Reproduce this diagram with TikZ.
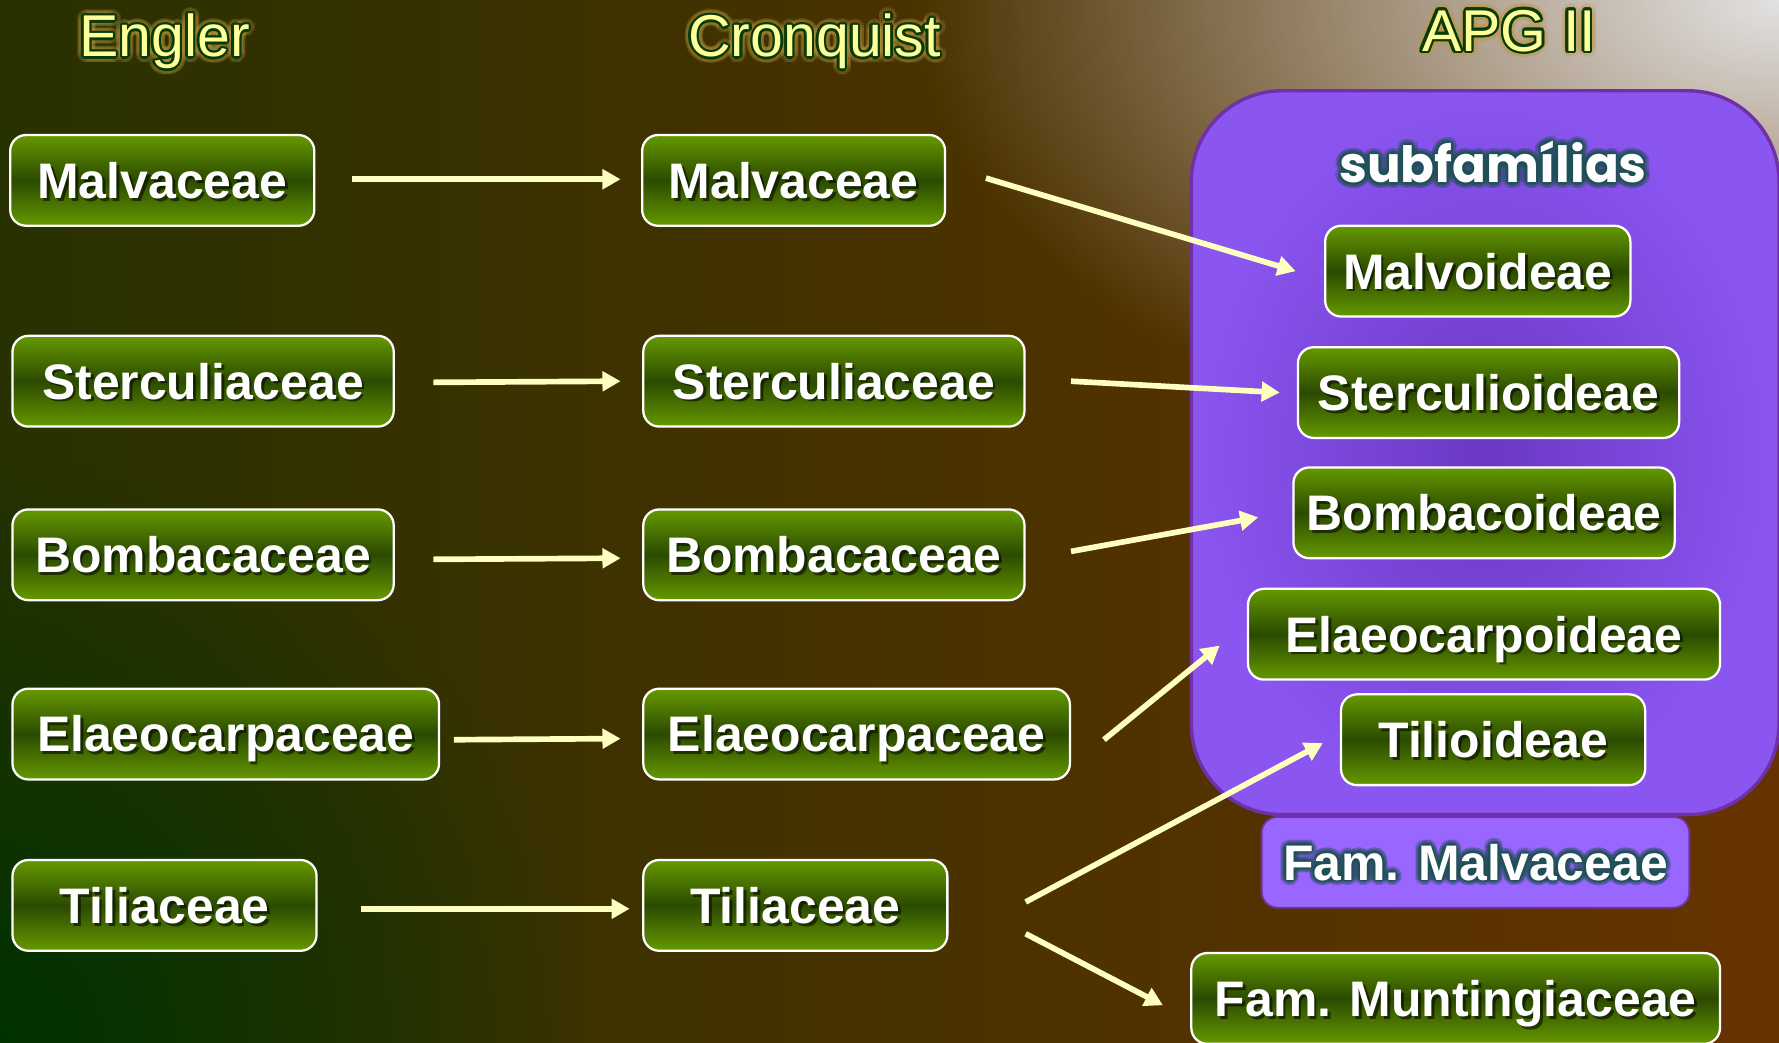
\documentclass[tikz,border=0pt]{standalone}
\usepackage{fontspec}
\setmainfont{Liberation Sans}
\newfontfamily\popfont{Poppins}
\usetikzlibrary{arrows.meta,calc,fadings}
\tikzfading[name=myglow, inner color=transparent!0, outer color=transparent!100]
\definecolor{bgL}{HTML}{283100}
\definecolor{bgM}{HTML}{533300}
\definecolor{bgR}{HTML}{663300}
\definecolor{bgG}{HTML}{003300}
\definecolor{bgW}{HTML}{E2E2E2}
\definecolor{gtop}{HTML}{669900}
\definecolor{gmid}{HTML}{2B4A00}
\definecolor{arrowc}{HTML}{FFFFC0}
\definecolor{titley}{HTML}{FFFF99}
\definecolor{titleo}{HTML}{0A3A0A}
\definecolor{titleg}{HTML}{C09A40}
\definecolor{purpin}{HTML}{6A38C4}
\definecolor{purpout}{HTML}{8B55F0}
\definecolor{purpline}{HTML}{7030A8}
\definecolor{purpfam}{HTML}{9966FF}
\definecolor{tealglow}{HTML}{1F4F55}
\newcommand\boxfont{\fontsize{22}{26}\selectfont\bfseries}
\newcommand\titlefont{\fontsize{26}{30}\selectfont}
\newcommand\subfont{\popfont\fontsize{22}{26}\selectfont\bfseries}
\tikzset{
  boxtext/.style={font=\boxfont, text height=15.8pt, text depth=0pt, inner sep=0pt},
  gbox/.style 2 args={draw=white, line width=1pt, rounded corners=7pt, minimum height=40pt,
    boxtext, text=white,
    path picture={
      \shade[top color=gtop, bottom color=gtop, middle color=gmid]
        (path picture bounding box.south west) rectangle (path picture bounding box.north east);
      \node[boxtext, text=black, opacity=0.55] (#1s) at ($(path picture bounding box.center)+(1.2pt,-1.2pt)$) {#2};
    }},
  pbox/.style 2 args={draw=purpline, line width=0.8pt, rounded corners=7pt, minimum height=40pt,
    boxtext, text=white, fill=purpfam,
    path picture={
      \foreach \a in {0,30,...,330}{
        \node[boxtext, text=tealglow, opacity=0.3] (#1g\a) at ($(path picture bounding box.center)+(\a:2.4pt)$) {#2};}
      \foreach \a in {0,45,...,315}{
        \node[boxtext, text=tealglow, opacity=0.5] (#1h\a) at ($(path picture bounding box.center)+(\a:1.1pt)$) {#2};}
    }},
  bigbox/.style={draw=purpline, line width=1.5pt, rounded corners=40pt, inner color=purpin, outer color=purpout},
  arr/.style={draw=arrowc, line width=2.5pt, -{Triangle[length=8pt,width=8.5pt]}},
  ttl/.style={font=\titlefont, anchor=base, inner sep=0pt},
  subt/.style={font=\subfont, anchor=base, inner sep=0pt},
}
\newcommand\gnode[4]{\node[gbox={#1}{#4}, minimum width=#3] (#1) at (#2) {#4};}
\newcommand\mytitle[3]{%
  \foreach \a in {0,20,...,340}{\node[ttl, text=titleg, opacity=0.15] (#1g\a) at ($(#2)+(\a:2.8pt)$) {#3};}
  \foreach \a in {0,30,...,330}{\node[ttl, text=titleo] (#1h\a) at ($(#2)+(\a:1.1pt)$) {#3};}
  \node[ttl, text=titley] (#1) at (#2) {#3};}
\begin{document}
\begin{tikzpicture}[x=0.5pt,y=-0.5pt]
\useasboundingbox (0,0) rectangle (1568,919);
\clip (0,0) rectangle (1568,919);
% background
\shade[left color=bgL, middle color=bgM, right color=bgR] (0,0) rectangle (1568,919);
\fill[bgG, path fading=myglow] (0,919) circle (520);
\fill[bgW, path fading=myglow] (1568,0) ellipse [x radius=760, y radius=430];
% titles
\mytitle{tEngler}{145,50}{Engler}
\mytitle{tCronquist}{718,50}{Cronquist}
\mytitle{tAPG}{1330,45}{APG II}
% APG container
\node[bigbox, minimum width=259pt, minimum height=319pt] (apg) at (1309,399) {};
\foreach \a in {0,30,...,330}{\node[subt, text=tealglow, opacity=0.3] (subg\a) at ($(1316,161)+(\a:2.6pt)$) {subfamílias};}
\foreach \a in {0,45,...,315}{\node[subt, text=tealglow, opacity=0.5] (subh\a) at ($(1316,161)+(\a:1.2pt)$) {subfamílias};}
\node[subt, text=white] (sub) at (1316,161) {subfamílias};
% Engler column
\gnode{e1}{143,159}{134pt}{Malvaceae}
\gnode{e2}{179,336}{168pt}{Sterculiaceae}
\gnode{e3}{179,489}{168pt}{Bombacaceae}
\gnode{e4}{199,647}{188pt}{Elaeocarpaceae}
\gnode{e5}{145,798}{134pt}{Tiliaceae}
% Cronquist column
\gnode{c1}{699.5,159}{133.5pt}{Malvaceae}
\gnode{c2}{735,336}{168pt}{Sterculiaceae}
\gnode{c3}{735,489}{168pt}{Bombacaceae}
\gnode{c4}{755,647}{188pt}{Elaeocarpaceae}
\gnode{c5}{701,798}{134pt}{Tiliaceae}
% APG II column
\gnode{a1}{1302.5,239}{134.5pt}{Malvoideae}
\gnode{a2}{1312,346}{168pt}{Sterculioideae}
\gnode{a3}{1308,452}{168pt}{Bombacoideae}
\gnode{a4}{1308,559}{208pt}{Elaeocarpoideae}
\gnode{a5}{1316,652}{134pt}{Tilioideae}
\node[pbox={fm}{Fam. Malvaceae}, minimum width=188.5pt] (fm) at (1300.5,760) {Fam. Malvaceae};
\gnode{mu}{1283,880}{233pt}{Fam. Muntingiaceae}
% arrows Engler -> Cronquist
\draw[arr] ($(e1.east)+(32,-1)$) -- ($(c1.west)+(-18,-1)$);
\draw[arr] ($(e2.east)+(34,1)$) -- ($(c2.west)+(-19,0)$);
\draw[arr] ($(e3.east)+(34,4)$) -- ($(c3.west)+(-19,3)$);
\draw[arr] ($(e4.east)+(12,5)$) -- ($(c4.west)+(-19,4)$);
\draw[arr] ($(e5.east)+(38,3)$) -- ($(c5.west)+(-11,3)$);
% arrows Cronquist -> APG II
\draw[arr] ($(c1.east)+(35,-2)$) -- ($(a1.west)+(-25,0)$);
\draw[arr] ($(c2.east)+(40,0)$) -- ($(a2.west)+(-15,0)$);
\draw[arr] ($(c3.east)+(40,-3)$) -- ($(a3.west)+(-30,4)$);
\draw[arr] ($(c4.east)+(29,5)$) -- ($(a4.west)+(-24,10)$);
\draw[arr] ($(c5.east)+(68,-3)$) -- ($(a5.west)+(-15,3)$);
\draw[arr] ($(c5.east)+(68,25)$) -- ($(mu.west)+(-24,6)$);
\end{tikzpicture}
\end{document}
